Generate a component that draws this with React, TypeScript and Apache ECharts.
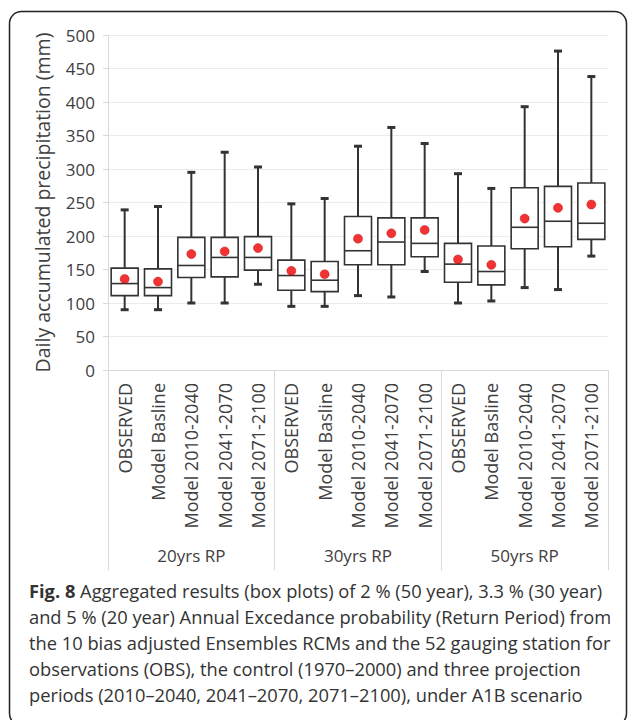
import React, { useEffect, useRef } from "react";
import * as echarts from "echarts";

const categories = [
  "OBSERVED", "Model Basline", "Model 2010-2040", "Model 2041-2070", "Model 2071-2100",
  "OBSERVED", "Model Basline", "Model 2010-2040", "Model 2041-2070", "Model 2071-2100",
  "OBSERVED", "Model Basline", "Model 2010-2040", "Model 2041-2070", "Model 2071-2100",
];
const groups = ["20yrs RP", "30yrs RP", "50yrs RP"];
const mins = [90, 90, 100, 100, 128, 95, 95, 111, 109, 147, 100, 103, 123, 120, 170];
const q1s = [111, 111, 138, 139, 149, 119, 117, 157, 157, 169, 131, 127, 181, 184, 195];
const medians = [129, 123, 156, 168, 168, 141, 134, 178, 191, 189, 158, 147, 213, 222, 219];
const q3s = [152, 151, 198, 198, 199, 164, 162, 229, 227, 227, 189, 185, 272, 274, 279];
const maxs = [239, 244, 295, 325, 303, 248, 256, 334, 362, 338, 293, 271, 393, 476, 438];
const means = [136, 132, 173, 177, 182, 148, 143, 196, 204, 209, 165, 157, 226, 242, 247];
const yTicks = { min: 0, max: 500, interval: 50 };

const captionLines = [
  "{b|Fig. 8} Aggregated results (box plots) of 2 % (50 year), 3.3 % (30 year)",
  "and 5 % (20 year) Annual Excedance probability (Return Period) from",
  "the 10 bias adjusted Ensembles RCMs and the 52 gauging station for",
  "observations (OBS), the control (1970–2000) and three projection",
  "periods (2010–2040, 2041–2070, 2071–2100), under A1B scenario",
];

const FONT = "'Open Sans', 'Noto Sans', sans-serif";

export default function App() {
  const ref = useRef<HTMLDivElement>(null);
  useEffect(() => {
    document.body.style.margin = "0";
    const chart = echarts.init(ref.current!, null, { renderer: "svg" });
    const boxData = categories.map((_, i) => [i, mins[i], q1s[i], medians[i], q3s[i], maxs[i]]);
    const meanData = categories.map((_, i) => [i, means[i]]);
    const stroke = "#333";
    const option: any = {
      animation: false,
      backgroundColor: "#fff",
      textStyle: { fontFamily: FONT },
      grid: { left: 108, right: 21, top: 35, bottom: 350 },
      xAxis: [
        {
          type: "category",
          data: categories,
          axisLine: { show: true, lineStyle: { color: "#d9d9d9", width: 1 } },
          axisTick: { show: false },
          axisLabel: {
            rotate: 90,
            interval: 0,
            margin: 13,
            fontSize: 18,
            color: "#404040",
            fontFamily: FONT,
          },
        },
        {
          type: "category",
          data: groups,
          position: "bottom",
          axisLine: { show: false },
          axisTick: { show: true, length: 200, lineStyle: { color: "#d9d9d9", width: 1 } },
          axisLabel: { margin: 177, fontSize: 17, color: "#404040", fontFamily: FONT },
          splitLine: { show: false },
        },
      ],
      yAxis: {
        type: "value",
        min: yTicks.min,
        max: yTicks.max,
        interval: yTicks.interval,
        name: "Daily accumulated precipitation (mm)",
        nameLocation: "middle",
        nameRotate: 90,
        nameGap: 56,
        nameTextStyle: { fontSize: 19.5, color: "#404040", fontFamily: FONT },
        axisLine: { show: true, lineStyle: { color: "#d9d9d9" } },
        axisTick: { show: true, length: 5, lineStyle: { color: "#d9d9d9" } },
        axisLabel: { fontSize: 17, color: "#404040", margin: 13, fontFamily: FONT },
        splitLine: { lineStyle: { color: "#ebebeb", width: 1 } },
      },
      series: [
        {
          type: "custom",
          xAxisIndex: 0,
          encode: { x: 0, y: [1, 2, 3, 4, 5] },
          data: boxData,
          renderItem: (params: any, api: any) => {
            const i = api.value(0);
            const pMin = api.coord([i, api.value(1)]);
            const pQ1 = api.coord([i, api.value(2)]);
            const pMed = api.coord([i, api.value(3)]);
            const pQ3 = api.coord([i, api.value(4)]);
            const pMax = api.coord([i, api.value(5)]);
            const band = api.size([1, 0])[0];
            const hw = (band * 0.81) / 2;
            const cw = 4;
            const x = pQ1[0];
            return {
              type: "group",
              children: [
                { type: "line", shape: { x1: x, y1: pMax[1], x2: x, y2: pQ3[1] }, style: { stroke, lineWidth: 2 } },
                { type: "line", shape: { x1: x, y1: pQ1[1], x2: x, y2: pMin[1] }, style: { stroke, lineWidth: 2 } },
                { type: "line", shape: { x1: x - cw, y1: pMax[1], x2: x + cw, y2: pMax[1] }, style: { stroke, lineWidth: 3 } },
                { type: "line", shape: { x1: x - cw, y1: pMin[1], x2: x + cw, y2: pMin[1] }, style: { stroke, lineWidth: 3 } },
                {
                  type: "rect",
                  shape: { x: x - hw, y: pQ3[1], width: hw * 2, height: pQ1[1] - pQ3[1] },
                  style: { fill: "#fff", stroke, lineWidth: 1.6 },
                },
                { type: "line", shape: { x1: x - hw, y1: pMed[1], x2: x + hw, y2: pMed[1] }, style: { stroke, lineWidth: 1.6 } },
              ],
            };
          },
          z: 2,
        },
        {
          type: "scatter",
          xAxisIndex: 0,
          data: meanData,
          symbol: "circle",
          symbolSize: 9,
          itemStyle: { color: "#f00000", borderColor: "#b00000", borderWidth: 0.5 },
          z: 3,
        },
      ],
      graphic: [
        {
          type: "rect",
          shape: { x: 9.5, y: 11.5, width: 617, height: 714, r: 12 },
          style: { fill: "none", stroke: "#222", lineWidth: 1.5 },
          silent: true,
        },
        ...captionLines.map((t, k) => ({
          type: "text",
          x: 29,
          y: 590 + k * 26,
          style: {
            text: t,
            fontSize: 18.3,
            fontFamily: FONT,
            fill: "#333",
            textVerticalAlign: "middle",
            verticalAlign: "middle",
            rich: { b: { fontWeight: "bold", fontSize: 18.3, fontFamily: FONT, fill: "#333" } },
          },
        })),
      ],
    };
    chart.setOption(option);
    return () => chart.dispose();
  }, []);
  return <div ref={ref} style={{ width: 629, height: 720 }} />;
}
